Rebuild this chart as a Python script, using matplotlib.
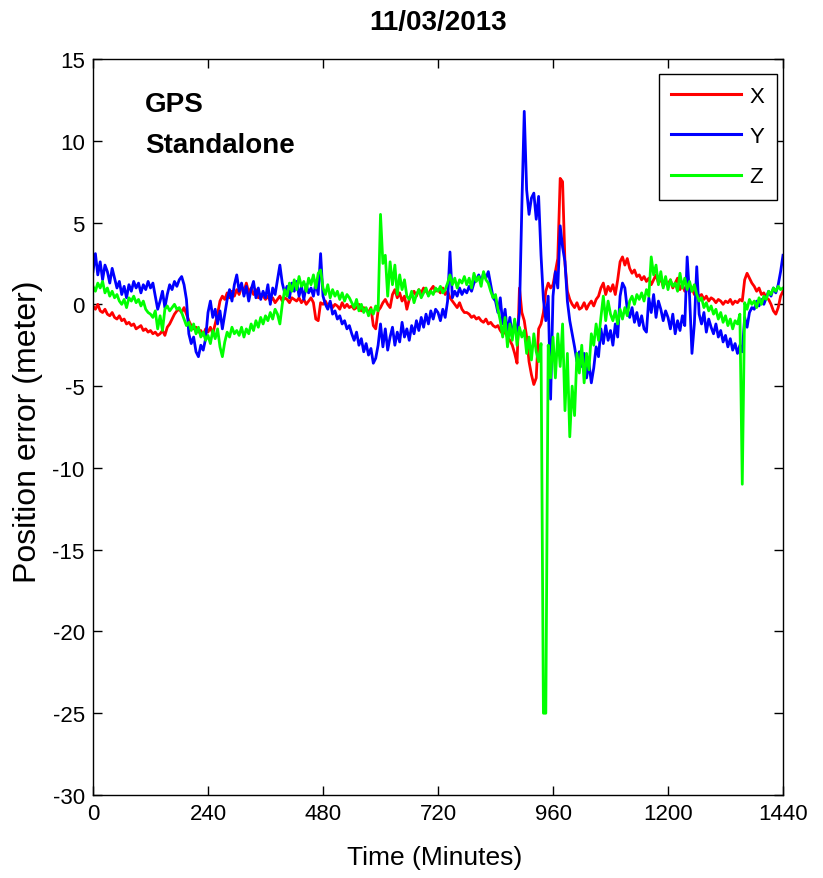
import matplotlib
matplotlib.use("Agg")
import matplotlib.pyplot as plt
from matplotlib import font_manager

# one sample every 5 minutes over the day
minutes = list(range(0, 1441, 5))

# position error (meter) per axis
err_x = [
    -0.1, -0.3, 0.0, -0.4, -0.5, -0.3, -0.6, -0.7, -0.5, -0.8, -0.9, -0.7,
    -1.0, -0.9, -1.2, -1.1, -1.3, -1.2, -1.5, -1.4, -1.3, -1.6, -1.5, -1.7,
    -1.6, -1.8, -1.7, -1.9, -1.8, -1.6, -1.9, -1.4, -1.2, -0.9, -0.6, -0.4,
    -0.3, -0.5, -0.2, -0.6, -1.0, -1.3, -1.5, -1.4, -1.7, -1.6, -1.9, -1.5,
    -1.7, -1.4, -1.8, -1.2, -0.6, 0.2, 0.5, 0.3, 0.7, 0.4, 0.8, 0.5,
    0.9, 0.6, 1.1, 0.8, 1.3, 0.7, 1.0, 0.6, 0.9, 0.4, 0.6, 0.5,
    0.3, 0.5, 0.2, 0.4, 0.1, 0.3, 0.5, 0.2, 0.4, 0.3, 0.1, 0.4,
    0.3, 0.2, 0.4, 0.1, 0.3, 0.0, 0.2, 0.4, 0.1, -0.9, -1.0, 0.1,
    0.0, 0.2, -0.1, 0.1, -0.2, 0.0, -0.1, -0.3, 0.1, -0.2, 0.0, -0.2,
    -0.1, -0.3, -0.2, 0.0, -0.4, -0.2, -0.3, -0.5, -0.2, -1.3, -1.5, -0.4,
    -0.2, 0.1, 0.3, 0.0, -0.2, 0.6, 0.9, 0.4, 0.7, 0.2, 0.5, -0.3,
    0.3, 0.6, 0.8, 0.5, 0.9, 0.7, 1.0, 0.8, 0.6, 0.9, 1.1, 0.8,
    0.9, 0.7, 1.0, 0.6, 0.8, 0.4, 0.2, 0.0, -0.2, 0.1, -0.3, -0.5,
    -0.5, -0.6, -0.8, -0.7, -0.9, -0.8, -1.0, -1.1, -0.9, -1.2, -1.1, -1.3,
    -1.4, -1.3, -1.6, -1.8, -1.7, -2.0, -2.2, -2.5, -3.0, -3.6, 1.0, -0.5,
    -1.0, -2.0, -3.5, -4.3, -4.9, -4.5, -1.5, -1.2, -0.5, 0.8, 1.3, 1.0,
    1.2, 2.0, 2.8, 7.7, 7.5, 2.5, 0.8, 0.3, 0.0, -0.2, 0.1, -0.3,
    -0.2, 0.1, -0.3, 0.0, 0.2, -0.1, 0.3, 0.5, 1.0, 1.3, 0.6, 1.1,
    0.8, 1.2, 0.6, 1.5, 2.6, 2.9, 2.4, 2.8, 2.2, 1.9, 2.1, 1.7,
    1.8, 1.5, 1.7, 1.4, 1.6, 1.2, 1.5, 1.8, 1.3, 1.6, 1.1, 1.4,
    1.2, 1.5, 1.0, 1.3, 1.6, 0.9, 1.2, 0.8, 1.1, 0.7, 1.0, 0.6,
    0.7, 0.5, 0.6, 0.3, 0.5, 0.2, 0.4, 0.3, 0.1, 0.3, 0.2, 0.0,
    0.2, 0.1, 0.3, 0.0, 0.2, 0.1, 0.3, 0.2, 1.5, 1.9, 1.6, 1.3,
    1.1, 0.8, 1.0, 0.6, 0.7, 0.4, 0.3, 0.0, -0.4, -0.6, -0.2, 0.5,
    0.8,
]

err_y = [
    2.0, 3.1, 1.8, 2.6, 1.5, 2.4, 2.0, 1.3, 2.2, 1.6, 1.0, 1.4,
    0.6, 1.1, 0.4, 1.2, 0.8, 1.4, 1.0, 1.3, 0.7, 1.2, 0.9, 1.4,
    1.0, 1.3, 0.5, -0.3, 0.2, 0.8, -0.2, 0.6, 1.2, 0.9, 1.4, 1.1,
    1.5, 1.7, 1.2, 0.3, -1.8, -2.4, -2.0, -2.9, -3.2, -2.5, -2.8, -2.1,
    -0.5, 0.2, -0.8, -0.3, -1.2, -0.4, -1.5, -0.6, 0.3, 0.9, 0.2, 1.2,
    1.8, 0.8, 1.3, 0.5, 1.1, 0.2, 0.9, 1.4, 0.4, 1.0, 0.3, 0.8,
    0.4, 1.2, 0.0, 1.0, 0.6, 1.5, 2.4, 1.3, 0.7, 1.1, 0.4, 1.3,
    0.8, 1.4, 0.5, 1.1, 0.3, 1.2, 0.7, 1.0, 0.5, 1.3, 0.6, 3.1,
    0.5, 0.0, -0.3, 0.2, -0.6, -0.4, -0.9, -0.7, -1.2, -1.0, -1.5, -1.3,
    -1.8, -2.2, -1.7, -2.5, -2.1, -2.9, -2.4, -3.1, -2.7, -3.6, -3.3, -2.5,
    -1.2, -2.6, -1.5, -2.8, -2.0, -1.4, -2.5, -1.7, -2.3, -1.1, -2.0, -1.5,
    -2.2, -1.3, -1.8, -1.0, -1.6, -0.8, -1.4, -0.6, -1.2, -0.4, -0.9, -0.3,
    -0.5, -1.0, -0.3, -0.8, 0.2, 3.2, 0.4, 0.8, 0.5, 1.0, 0.6, 0.9,
    0.7, 1.1, 0.8, 1.3, 1.5, 1.8, 1.4, 1.9, 1.6, 2.0, 1.2, 0.4,
    0.2, -0.5, 0.4, -1.2, -0.3, -1.8, -0.8, -2.0, -1.0, -1.9, -0.5, 6.0,
    11.8, 7.0, 5.5, 6.5, 6.8, 5.2, 6.6, 3.0, 0.3, -1.0, 0.5, -5.8,
    0.5, 2.0, 1.0, 4.8, 3.5, 2.6, 0.2, -1.0, -1.8, -2.6, -3.5, -2.9,
    -3.8, -3.0, -4.5, -3.6, -4.8, -3.9, -2.6, -3.2, -1.5, -2.4, -1.3, -2.2,
    -1.6, -2.5, -1.2, -2.0, 0.5, 1.3, 1.0, -0.3, -0.8, -0.2, -1.1, -0.5,
    -1.3, -0.7, -1.5, -1.7, 0.4, -0.5, 0.6, -0.8, 0.2, -0.3, -1.0, -0.4,
    -0.8, -1.5, -0.6, -1.8, -1.0, -1.6, -0.7, -1.3, 2.9, 0.5, -3.0, -1.2,
    2.3, -0.6, -1.2, -0.5, -1.7, -0.9, -1.4, -1.8, -1.2, -2.0, -1.6, -2.3,
    -1.9, -2.6, -2.1, -2.8, -2.4, -3.0, -2.5, -2.9, -0.8, -1.4, -0.5, -0.2,
    -0.3, 0.2, -0.1, 0.3, 0.0, 0.4, 0.8, 0.5, 1.0, 0.7, 1.2, 2.0,
    3.0,
]

err_z = [
    1.1, 0.8, 1.3, 1.0, 1.4, 0.7, 1.0, 0.5, 0.8, 0.4, 0.6, 0.2,
    0.0, 0.3, -0.2, 0.4, 0.2, 0.5, 0.1, 0.3, -0.1, 0.2, -0.3, -0.5,
    -0.6, -0.8, -0.4, -1.5, -0.7, -1.6, -0.3, -0.1, -0.4, -0.2, 0.0, -0.3,
    -0.2, -0.5, -0.9, -1.3, -1.1, -1.6, -1.2, -1.8, -1.4, -2.0, -1.7, -2.2,
    -1.9, -2.4, -1.6, -2.1, -1.5, -2.6, -3.2, -2.3, -1.7, -2.0, -1.4, -1.8,
    -1.6, -1.9, -1.4, -2.0, -1.5, -1.8, -1.2, -1.6, -1.0, -1.4, -0.8, -1.2,
    -0.7, -1.0, -0.5, -0.9, -0.3, -0.6, -1.2, 0.0, 0.9, 0.5, 1.3, 0.8,
    1.5, 0.9, 1.7, 1.1, 1.4, 0.8, 1.6, 1.2, 1.8, 1.0, 1.9, 2.1,
    1.0, 0.6, 1.2, 0.4, 0.9, 0.5, 0.8, 0.3, 0.7, 0.2, 0.6, 0.4,
    0.1, -0.2, 0.3, -0.4, 0.0, -0.5, -0.2, -0.7, -0.3, -0.6, -0.1, -0.4,
    5.5, 2.5, 3.0, 0.5, 2.6, 1.2, 2.4, 0.6, 1.8, 0.9, 1.5, 0.5,
    0.3, 0.8, 0.1, 0.6, 0.9, 0.4, 0.7, 1.0, 0.5, 0.8, 0.6, 1.0,
    0.8, 1.1, 0.7, 0.9, 1.3, 1.8, 1.2, 1.6, 1.0, 1.5, 1.3, 1.7,
    1.2, 1.6, 1.0, 1.9, 1.4, 1.7, 1.1, 2.0, 1.5, 1.3, 0.8, 0.4,
    0.6, -0.3, -1.0, -2.0, -0.8, -2.6, -1.2, -2.2, -0.9, -2.5, -1.4, -2.0,
    -1.6, -3.0, -2.0, -3.4, -1.8, -2.9, -3.5, -2.4, -25.0, -25.0, -2.5, -4.5,
    -2.0, -4.5, -1.8, -3.8, -1.2, -6.5, -3.0, -8.1, -5.0, -6.8, -3.0, -4.2,
    -2.5, -4.8, -3.0, -4.0, -1.8, -2.5, -1.2, -2.2, -0.8, 0.5, -1.0, 0.2,
    -0.6, -1.0, -0.4, -1.2, -0.3, -0.9, -0.2, -0.7, 0.2, 0.5, 0.0, 0.6,
    0.3, 0.7, 0.2, 0.9, 0.5, 2.9, 1.8, 2.4, 1.2, 2.0, 1.0, 1.7,
    0.9, 1.5, 1.1, 1.3, 0.8, 1.9, 1.0, 1.6, 0.9, 1.4, 0.8, 1.2,
    0.6, 0.2, 0.4, -0.2, 0.1, -0.4, -0.1, -0.6, -0.3, -0.9, -0.5, -1.1,
    -0.7, -1.3, -0.9, -1.5, -1.0, -1.2, -0.6, -11.0, 0.1, -0.3, 0.3, 0.0,
    0.2, -0.2, 0.4, 0.0, 0.5, 0.3, 0.8, 0.6, 1.0, 0.8, 1.1, 0.9,
    1.0,
]

labels = ["X", "Y", "Z"]
colors = ["#ff0000", "#0000ff", "#00ff00"]
x_ticks = list(range(0, 1441, 240))
y_ticks = list(range(-30, 16, 5))

plt.rcParams["font.family"] = ["Liberation Sans", "DejaVu Sans"]
plt.rcParams["axes.unicode_minus"] = False

# tick labels in the reference look squeezed, use the narrow cut if present
have_narrow = any(f.name == "Liberation Sans Narrow" for f in font_manager.fontManager.ttflist)
tick_family = ["Liberation Sans Narrow"] if have_narrow else ["Liberation Sans"]
tick_size = 18 if have_narrow else 16
leg_size = 18 if have_narrow else 16

fig = plt.figure(figsize=(8.23, 8.79), dpi=100)
ax = fig.add_axes([93 / 823, 83 / 879, 690 / 823, 736 / 879])

for series, name, c in zip([err_x, err_y, err_z], labels, colors):
    ax.plot(minutes, series, color=c, linewidth=2.0, label=name)

ax.set_xlim(0, 1440)
ax.set_ylim(-30, 15)
ax.set_xticks(x_ticks)
ax.set_yticks(y_ticks)
ax.tick_params(direction="in", top=True, right=True, length=6.5, width=1.0, pad=6)
for lab in ax.get_xticklabels() + ax.get_yticklabels():
    lab.set_family(tick_family)
    lab.set_fontsize(tick_size)
for sp in ax.spines.values():
    sp.set_linewidth(1.0)

fig.text(438 / 823, 1 - 23 / 879, "11/03/2013", ha="center", va="center",
         fontsize=20, fontweight="bold")
fig.text(28 / 823, 1 - 432 / 879, "Position error (meter)", ha="center", va="center",
         rotation=90, fontsize=23)
fig.text(435 / 823, 1 - 858 / 879, "Time (Minutes)", ha="center", va="center", fontsize=19)

ax.text(0.075, 0.957, "GPS\nStandalone", transform=ax.transAxes, ha="left", va="top",
        fontsize=20, fontweight="bold", linespacing=1.75)

leg = ax.legend(loc="upper right", bbox_to_anchor=(0.991, 0.98), borderaxespad=0,
                prop={"family": tick_family, "size": leg_size},
                handlelength=3.15, handletextpad=0.36, labelspacing=0.86,
                borderpad=0.56, fancybox=False, framealpha=1)
leg.get_frame().set_edgecolor("black")
leg.get_frame().set_linewidth(1.0)
for h in leg.get_lines():
    h.set_linewidth(2.2)

fig.savefig("out.png", dpi=100)
